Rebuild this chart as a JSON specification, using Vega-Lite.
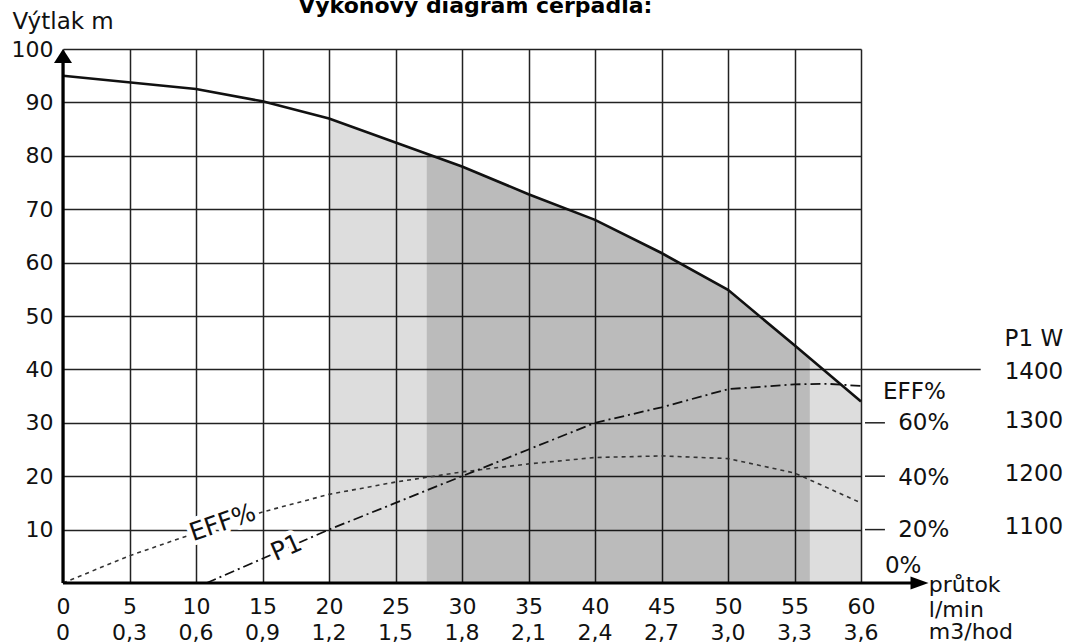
{
  "$schema": "https://vega.github.io/schema/vega-lite/v6.json",
  "width": 798,
  "height": 534,
  "autosize": "none",
  "padding": {"left": 63, "top": 49, "right": 209, "bottom": 61},
  "background": "white",
  "config": {"view": {"stroke": null}, "font": "DejaVu Sans"},
  "datasets": {
    "head": [
      {"q": 0, "v": 95}, {"q": 10, "v": 92.5}, {"q": 15, "v": 90.2}, {"q": 20, "v": 87},
      {"q": 25, "v": 82.5}, {"q": 30, "v": 78}, {"q": 35, "v": 72.8}, {"q": 40, "v": 68},
      {"q": 45, "v": 61.8}, {"q": 50, "v": 54.9}, {"q": 55, "v": 44.5}, {"q": 60, "v": 34}
    ],
    "light": [
      {"q": 20, "v": 87}, {"q": 25, "v": 82.5}, {"q": 27.35, "v": 80.4}, {"q": 30, "v": 78},
      {"q": 35, "v": 72.8}, {"q": 40, "v": 68}, {"q": 45, "v": 61.8}, {"q": 50, "v": 54.9},
      {"q": 55, "v": 44.5}, {"q": 56.15, "v": 42}, {"q": 60, "v": 34}
    ],
    "dark": [
      {"q": 27.35, "v": 80.4}, {"q": 30, "v": 78}, {"q": 35, "v": 72.8}, {"q": 40, "v": 68},
      {"q": 45, "v": 61.8}, {"q": 50, "v": 54.9}, {"q": 55, "v": 44.5}, {"q": 56.15, "v": 42}
    ],
    "eff": [
      {"q": 0, "v": 0}, {"q": 5, "v": 5.1}, {"q": 10, "v": 9.4}, {"q": 15, "v": 13.3},
      {"q": 20, "v": 16.6}, {"q": 25, "v": 18.9}, {"q": 30, "v": 20.8}, {"q": 35, "v": 22.3},
      {"q": 40, "v": 23.5}, {"q": 45, "v": 23.8}, {"q": 50, "v": 23.3}, {"q": 55, "v": 20.6},
      {"q": 60, "v": 15}
    ],
    "p1": [
      {"q": 10.8, "v": 0}, {"q": 20, "v": 10}, {"q": 25, "v": 15}, {"q": 30, "v": 20},
      {"q": 35, "v": 25}, {"q": 40, "v": 30}, {"q": 45, "v": 32.9}, {"q": 50, "v": 36.3},
      {"q": 55, "v": 37.2}, {"q": 57.5, "v": 37.3}, {"q": 60, "v": 36.9}
    ],
    "extRules": [
      {"q": 60.3, "q2": 61.8, "v": 30}, {"q": 60.3, "q2": 61.8, "v": 20},
      {"q": 60.3, "q2": 61.8, "v": 10}, {"q": 60, "q2": 69, "v": 40}
    ],
    "axisLines": [
      {"q": 0, "q2": 64.4, "v": 0, "v2": 0},
      {"q": 0, "q2": 0, "v": 0, "v2": 98.7}
    ],
    "arrows": [
      {"q": 0, "v": 98.7, "dir": "up"},
      {"q": 64.4, "v": 0, "dir": "right"}
    ],
    "effLabel": [{"q": 12.0, "v": 11.3, "t": "EFF%"}],
    "p1Label": [{"q": 16.8, "v": 6.6, "t": "P1"}],
    "rightLeft": [
      {"q": 61.65, "v": 35.7, "t": "EFF%"},
      {"q": 62.8, "v": 29.9, "t": "60%"},
      {"q": 62.8, "v": 19.7, "t": "40%"},
      {"q": 62.8, "v": 9.9, "t": "20%"},
      {"q": 61.8, "v": 3.1, "t": "0%"}
    ],
    "rightCenter": [
      {"q": 73.0, "v": 45.7, "t": "P1 W"},
      {"q": 73.0, "v": 39.6, "t": "1400"},
      {"q": 73.0, "v": 30.4, "t": "1300"},
      {"q": 73.0, "v": 20.4, "t": "1200"},
      {"q": 73.0, "v": 10.5, "t": "1100"}
    ],
    "flow": [
      {"q": 65.1, "v": -1.7, "t": "průtok"},
      {"q": 65.1, "v": -6.3, "t": "l/min"},
      {"q": 65.1, "v": -10.5, "t": "m3/hod"}
    ],
    "hod": [
      {"q": 0, "v": -10.7, "t": "0"}, {"q": 5, "v": -10.7, "t": "0,3"},
      {"q": 10, "v": -10.7, "t": "0,6"}, {"q": 15, "v": -10.7, "t": "0,9"},
      {"q": 20, "v": -10.7, "t": "1,2"}, {"q": 25, "v": -10.7, "t": "1,5"},
      {"q": 30, "v": -10.7, "t": "1,8"}, {"q": 35, "v": -10.7, "t": "2,1"},
      {"q": 40, "v": -10.7, "t": "2,4"}, {"q": 45, "v": -10.7, "t": "2,7"},
      {"q": 50, "v": -10.7, "t": "3,0"}, {"q": 55, "v": -10.7, "t": "3,3"},
      {"q": 60, "v": -10.7, "t": "3,6"}
    ],
    "titleRow": [{"q": 31.0, "v": 106.8, "t": "Výkonový diagram čerpadla:"}]
  },
  "encoding": {
    "x": {
      "field": "q",
      "type": "quantitative",
      "scale": {"domain": [0, 60], "nice": false, "zero": false},
      "axis": {
        "title": null,
        "values": [0, 5, 10, 15, 20, 25, 30, 35, 40, 45, 50, 55, 60],
        "domain": false,
        "ticks": false,
        "tickSize": 0,
        "grid": true,
        "gridColor": "#222222",
        "gridWidth": 1.5,
        "gridOpacity": 1,
        "labelFont": "DejaVu Sans",
        "labelFontSize": 22,
        "labelColor": "#111111",
        "labelBaseline": "alphabetic",
        "labelPadding": 30,
        "labelFlush": false,
        "labelOverlap": false
      }
    },
    "y": {
      "field": "v",
      "type": "quantitative",
      "scale": {"domain": [0, 100], "nice": false, "zero": false},
      "axis": {
        "title": "Výtlak m",
        "titleAngle": 0,
        "titleAlign": "left",
        "titleBaseline": "alphabetic",
        "titleX": -51,
        "titleY": -20.5,
        "titleFont": "DejaVu Sans",
        "titleFontSize": 23,
        "titleFontWeight": "normal",
        "titleColor": "#111111",
        "values": [10, 20, 30, 40, 50, 60, 70, 80, 90, 100],
        "domain": false,
        "ticks": false,
        "tickSize": 0,
        "grid": true,
        "gridColor": "#222222",
        "gridWidth": 1.5,
        "gridOpacity": 1,
        "labelFont": "DejaVu Sans",
        "labelFontSize": 22,
        "labelColor": "#111111",
        "labelPadding": 10,
        "labelFlush": false,
        "labelOverlap": false
      }
    }
  },
  "layer": [
    {
      "data": {"name": "light"},
      "mark": {"type": "area", "color": "black", "opacity": 0.133}
    },
    {
      "data": {"name": "dark"},
      "mark": {"type": "area", "color": "black", "opacity": 0.154}
    },
    {
      "data": {"name": "head"},
      "mark": {"type": "line", "color": "#111111", "strokeWidth": 2.6}
    },
    {
      "data": {"name": "eff"},
      "mark": {"type": "line", "color": "#333333", "strokeWidth": 1.6, "strokeDash": [4, 4]}
    },
    {
      "data": {"name": "p1"},
      "mark": {"type": "line", "color": "#111111", "strokeWidth": 1.8, "strokeDash": [10, 4, 2, 4]}
    },
    {
      "data": {"name": "extRules"},
      "mark": {"type": "rule", "color": "#222222", "strokeWidth": 1.5},
      "encoding": {"x2": {"field": "q2"}}
    },
    {
      "data": {"name": "axisLines"},
      "mark": {"type": "rule", "color": "#000000", "strokeWidth": 3.2},
      "encoding": {"x2": {"field": "q2"}, "y2": {"field": "v2"}}
    },
    {
      "data": {"name": "arrows"},
      "mark": {"type": "point", "filled": true, "color": "#000000", "opacity": 1, "size": 324},
      "encoding": {
        "shape": {
          "field": "dir",
          "type": "nominal",
          "scale": {"domain": ["up", "right"], "range": ["M-1,0.78L0,-0.78L1,0.78Z", "M-1,-0.72L1,0L-1,0.72Z"]},
          "legend": null
        }
      }
    },
    {
      "data": {"name": "effLabel"},
      "mark": {"type": "text", "font": "DejaVu Sans", "fontSize": 25, "angle": 341, "align": "center", "baseline": "middle", "fill": "white", "stroke": "white", "strokeWidth": 9, "strokeJoin": "round"},
      "encoding": {"text": {"field": "t"}}
    },
    {
      "data": {"name": "effLabel"},
      "mark": {"type": "text", "font": "DejaVu Sans", "fontSize": 25, "angle": 341, "align": "center", "baseline": "middle", "color": "#111111"},
      "encoding": {"text": {"field": "t"}}
    },
    {
      "data": {"name": "p1Label"},
      "mark": {"type": "text", "font": "DejaVu Sans", "fontSize": 25, "angle": 336, "align": "center", "baseline": "middle", "fill": "white", "stroke": "white", "strokeWidth": 9, "strokeJoin": "round"},
      "encoding": {"text": {"field": "t"}}
    },
    {
      "data": {"name": "p1Label"},
      "mark": {"type": "text", "font": "DejaVu Sans", "fontSize": 25, "angle": 336, "align": "center", "baseline": "middle", "color": "#111111"},
      "encoding": {"text": {"field": "t"}}
    },
    {
      "data": {"name": "rightLeft"},
      "mark": {"type": "text", "font": "DejaVu Sans", "fontSize": 23, "align": "left", "baseline": "middle", "color": "#111111"},
      "encoding": {"text": {"field": "t"}}
    },
    {
      "data": {"name": "rightCenter"},
      "mark": {"type": "text", "font": "DejaVu Sans", "fontSize": 23, "align": "center", "baseline": "middle", "color": "#111111"},
      "encoding": {"text": {"field": "t"}}
    },
    {
      "data": {"name": "flow"},
      "mark": {"type": "text", "font": "DejaVu Sans", "fontSize": 22, "align": "left", "baseline": "alphabetic", "color": "#111111"},
      "encoding": {"text": {"field": "t"}}
    },
    {
      "data": {"name": "hod"},
      "mark": {"type": "text", "font": "DejaVu Sans", "fontSize": 22, "align": "center", "baseline": "alphabetic", "color": "#111111"},
      "encoding": {"text": {"field": "t"}}
    },
    {
      "data": {"name": "titleRow"},
      "mark": {"type": "text", "font": "DejaVu Sans", "fontSize": 22, "fontWeight": "bold", "align": "center", "baseline": "alphabetic", "color": "#000000"},
      "encoding": {"text": {"field": "t"}}
    }
  ]
}
